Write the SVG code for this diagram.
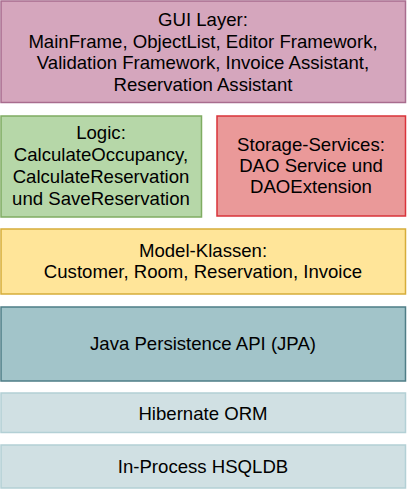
<svg xmlns="http://www.w3.org/2000/svg" width="407" height="489" viewBox="0 0 407 489">
<style>
rect{stroke-width:1.5}
text{font-family:"Liberation Sans",Arial,sans-serif;font-size:18.6px;fill:#000;text-anchor:middle}
.gui{fill:#d5a6bd;stroke:#a86c8e}
.logic{fill:#b6d7a8;stroke:#7fac62}
.store{fill:#ea9999;stroke:#d9333a}
.model{fill:#ffe599;stroke:#d6ad3a}
.jpa{fill:#a2c4c9;stroke:#4e7d86}
.lib{fill:#d0e0e3;stroke:#b3d0d5}
</style>
<rect width="407" height="489" fill="#ffffff" stroke="none"/>
<g id="connectors"></g>
<g id="gui">
<rect class="gui" x="1" y="1" width="404.5" height="101.5"/>
<text x="203" y="26">GUI Layer:</text>
<text x="203" y="47.5">MainFrame, ObjectList, Editor Framework,</text>
<text x="203" y="69">Validation Framework, Invoice Assistant,</text>
<text x="203" y="90.5">Reservation Assistant</text>
</g>
<g id="logic">
<rect class="logic" x="1" y="116" width="200.5" height="101"/>
<text x="101" y="139">Logic:</text>
<text x="101" y="161">CalculateOccupancy,</text>
<text x="101" y="183">CalculateReservation</text>
<text x="101" y="205">und SaveReservation</text>
</g>
<g id="storage">
<rect class="store" x="217" y="116" width="188.5" height="100"/>
<text x="311" y="151">Storage-Services:</text>
<text x="311" y="172">DAO Service und</text>
<text x="311" y="193">DAOExtension</text>
</g>
<g id="model">
<rect class="model" x="1" y="229" width="404.5" height="65"/>
<text x="203" y="257">Model-Klassen:</text>
<text x="203" y="278">Customer, Room, Reservation, Invoice</text>
</g>
<g id="jpa">
<rect class="jpa" x="1" y="307" width="404.5" height="74"/>
<text x="203" y="350">Java Persistence API (JPA)</text>
</g>
<g id="hibernate">
<rect class="lib" x="1" y="393" width="404.5" height="39.5"/>
<text x="203" y="420">Hibernate ORM</text>
</g>
<g id="hsqldb">
<rect class="lib" x="1" y="445" width="404.5" height="43"/>
<text x="203" y="472.5">In-Process HSQLDB</text>
</g>
</svg>
